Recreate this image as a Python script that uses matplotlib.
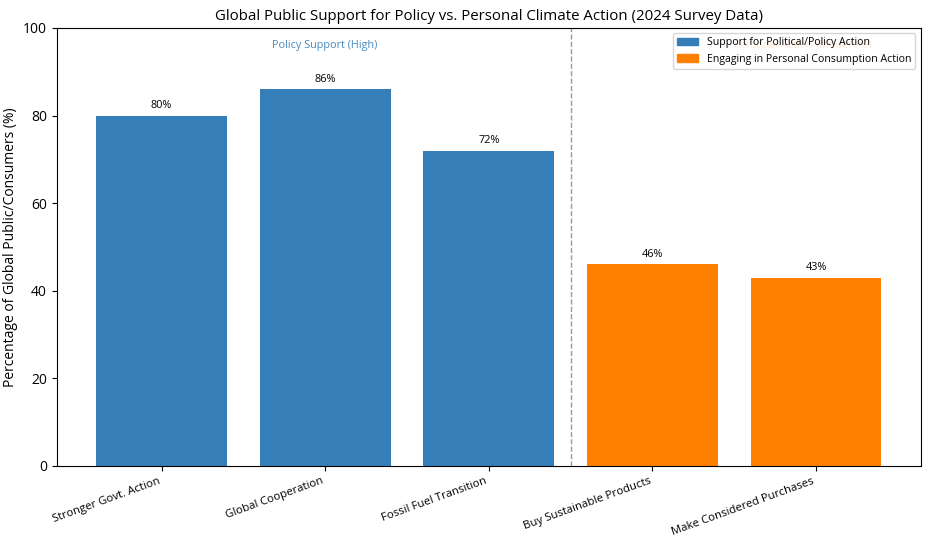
import matplotlib
matplotlib.use("Agg")
import matplotlib.pyplot as plt
from matplotlib.patches import Patch

plt.rcParams['font.family'] = ['Open Sans', 'DejaVu Sans']

categories = ["Stronger Govt. Action", "Global Cooperation", "Fossil Fuel Transition",
              "Buy Sustainable Products", "Make Considered Purchases"]
values = [80, 86, 72, 46, 43]
groups = ["policy", "policy", "policy", "personal", "personal"]

blue = "#367EB8"
orange = "#FF7F00"
colors = [blue if g == "policy" else orange for g in groups]

fig, ax = plt.subplots(figsize=(9.31, 5.38), dpi=100)
fig.subplots_adjust(left=0.061, right=0.989, top=0.948, bottom=0.134)

x = list(range(len(categories)))
bars = ax.bar(x, values, color=colors, width=0.8)
for b, v in zip(bars, values):
    ax.text(b.get_x() + b.get_width() / 2, v + 1, f"{v}%", ha="center", va="bottom", fontsize=7.8)

ax.axvline(2.5, color="gray", linestyle="--", linewidth=1, alpha=0.8)
ax.text(1, 96, "Policy Support (High)", color=blue, ha="center", va="center", fontsize=7.8, alpha=0.9)
ax.text(3.5, 96, "Personal Action (Moderate)", color=orange, ha="left", va="center", fontsize=7.8, alpha=0.8)

ax.set_ylim(0, 100)
ax.set_xticks(x)
ax.set_xticklabels(categories, rotation=20, ha="right", fontsize=8.2)
ax.tick_params(axis="y", labelsize=10)
ax.set_ylabel("Percentage of Global Public/Consumers (%)", fontsize=10)
ax.set_title("Global Public Support for Policy vs. Personal Climate Action (2024 Survey Data)", fontsize=10.8)

handles = [Patch(color=blue, label="Support for Political/Policy Action"),
           Patch(color=orange, label="Engaging in Personal Consumption Action")]
ax.legend(handles=handles, loc="upper right", fontsize=7.6, framealpha=0.8)

fig.savefig("out.png", dpi=100)
